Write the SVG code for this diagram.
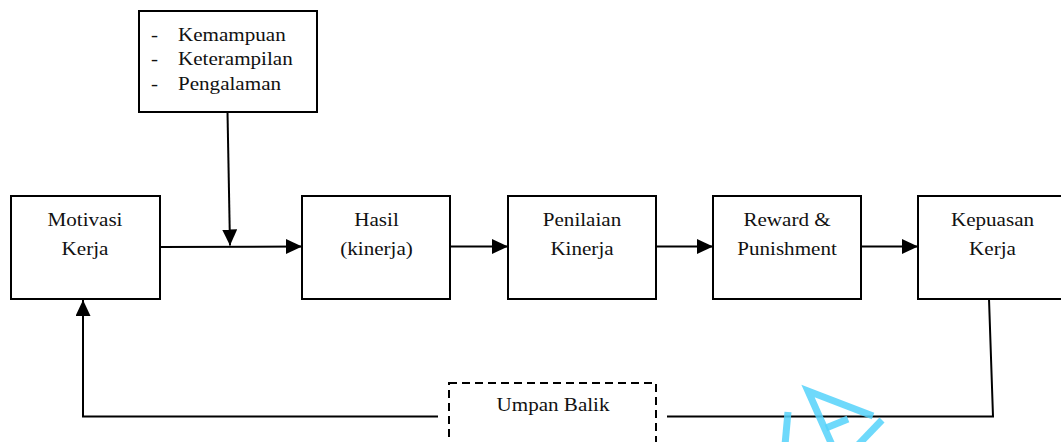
<svg xmlns="http://www.w3.org/2000/svg" width="1061" height="442" viewBox="0 0 1061 442">
  <style>
    .box { fill: #ffffff; stroke: #000000; stroke-width: 2; }
    .dash { fill: none; stroke: #000000; stroke-width: 2; stroke-dasharray: 8 5; }
    .line { fill: none; stroke: #000000; stroke-width: 2; }
    .lbl { font-family: "Liberation Serif", "Times New Roman", serif; font-size: 19px; fill: #111111; }
    .mid { text-anchor: middle; }
    .mark { fill: none; stroke: #55d2fa; stroke-width: 7; stroke-linecap: butt; opacity: 0.85; }
  </style>
  <defs>
    <marker id="arrow" markerUnits="userSpaceOnUse" markerWidth="16" markerHeight="16" refX="16" refY="7.5" orient="auto">
      <path d="M0,0 L16,7.5 L0,15 Z" fill="#000000"/>
    </marker>
  </defs>

  <rect width="1061" height="442" fill="#ffffff"/>

  <!-- connectors -->
  <g id="connectors">
    <line class="line" x1="160" y1="247" x2="302" y2="246.5" marker-end="url(#arrow)"/>
    <line class="line" x1="227.5" y1="112" x2="230" y2="245.5" marker-end="url(#arrow)"/>
    <line class="line" x1="450" y1="246.5" x2="508" y2="246.5" marker-end="url(#arrow)"/>
    <line class="line" x1="656" y1="246.5" x2="713" y2="246.5" marker-end="url(#arrow)"/>
    <line class="line" x1="861" y1="246.5" x2="918" y2="246.5" marker-end="url(#arrow)"/>
    <!-- feedback loop -->
    <polyline class="line" points="989,299 993,416.5 667,416.5"/>
    <polyline class="line" points="438,416.5 83,416.5 83,300" marker-end="url(#arrow)"/>
  </g>

  <!-- factors box -->
  <g id="node-faktor">
    <rect class="box" x="139" y="11" width="178" height="101"/>
    <text class="lbl" transform="matrix(1.11 0 0 1 151 0)" x="0" y="41">-</text>
    <text class="lbl" transform="matrix(1.11 0 0 1 151 0)" x="0" y="65">-</text>
    <text class="lbl" transform="matrix(1.11 0 0 1 151 0)" x="0" y="90">-</text>
    <text class="lbl" transform="matrix(1.11 0 0 1 178 0)" x="0" y="41">Kemampuan</text>
    <text class="lbl" transform="matrix(1.11 0 0 1 178 0)" x="0" y="65">Keterampilan</text>
    <text class="lbl" transform="matrix(1.11 0 0 1 178 0)" x="0" y="90">Pengalaman</text>
  </g>

  <g id="node-motivasi">
    <rect class="box" x="11" y="196" width="149" height="103"/>
    <text class="lbl mid" transform="matrix(1.11 0 0 1 85 0)" x="0" y="226">Motivasi</text>
    <text class="lbl mid" transform="matrix(1.11 0 0 1 85 0)" x="0" y="255">Kerja</text>
  </g>

  <g id="node-hasil">
    <rect class="box" x="302" y="196" width="148" height="103"/>
    <text class="lbl mid" transform="matrix(1.11 0 0 1 376.5 0)" x="0" y="226.5">Hasil</text>
    <text class="lbl mid" transform="matrix(1.11 0 0 1 376.5 0)" x="0" y="255">(kinerja)</text>
  </g>

  <g id="node-penilaian">
    <rect class="box" x="508" y="196" width="148" height="103"/>
    <text class="lbl mid" transform="matrix(1.11 0 0 1 582 0)" x="0" y="226.5">Penilaian</text>
    <text class="lbl mid" transform="matrix(1.11 0 0 1 582 0)" x="0" y="255">Kinerja</text>
  </g>

  <g id="node-reward">
    <rect class="box" x="713" y="196" width="148" height="103"/>
    <text class="lbl mid" transform="matrix(1.11 0 0 1 787 0)" x="0" y="226">Reward &amp;</text>
    <text class="lbl mid" transform="matrix(1.11 0 0 1 787 0)" x="0" y="255">Punishment</text>
  </g>

  <g id="node-kepuasan">
    <rect class="box" x="918" y="196" width="149" height="103"/>
    <text class="lbl mid" transform="matrix(1.11 0 0 1 992.5 0)" x="0" y="226">Kepuasan</text>
    <text class="lbl mid" transform="matrix(1.11 0 0 1 992.5 0)" x="0" y="255">Kerja</text>
  </g>

  <g id="node-umpan-balik">
    <rect class="dash" x="449" y="383" width="207" height="80"/>
    <text class="lbl mid" transform="matrix(1.11 0 0 1 553 0)" x="0" y="411">Umpan Balik</text>
  </g>

  <!-- light blue logo mark -->
  <g id="logo-mark">
    <polyline class="mark" points="832,445 808,391 873,416"/>
    <line class="mark" x1="826" y1="428" x2="848" y2="419"/>
    <line class="mark" x1="788" y1="412" x2="785" y2="445"/>
    <line class="mark" x1="882" y1="420" x2="858" y2="445"/>
  </g>
</svg>
